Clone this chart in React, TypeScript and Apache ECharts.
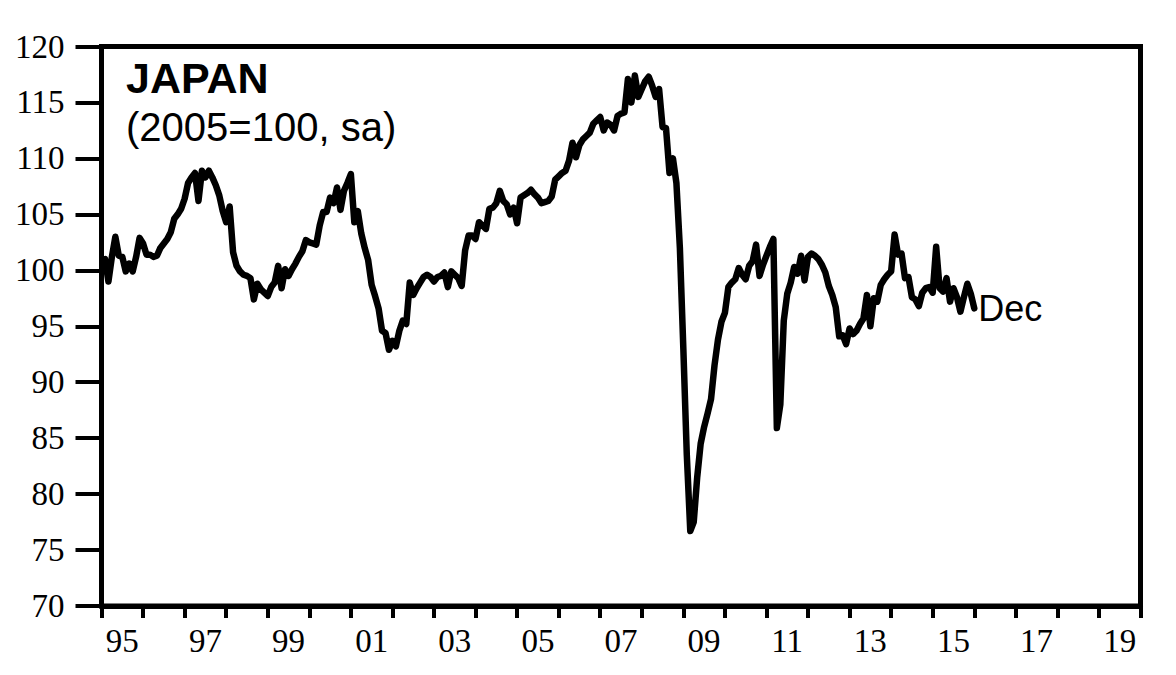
import React, { useEffect, useRef } from "react";
import * as echarts from "echarts";

// Tick labels of the category (year) axis: one slot per year, 1995..2019
const yearLabels = [
  "95", "96", "97", "98", "99", "00", "01", "02", "03", "04",
  "05", "06", "07", "08", "09", "10", "11", "12", "13", "14",
  "15", "16", "17", "18", "19",
];

const startYear = 1995;
const axisMinYear = 1995;
const axisMaxYear = 2020;

// Japan industrial production, 2005=100, seasonally adjusted, monthly Jan 1995 .. Dec 2015
const ipIndex = [
  // 1995
  101.0, 99.0, 101.2, 103.0, 101.3, 101.2, 99.9, 100.6, 99.9, 101.2, 102.9, 102.4,
  // 1996
  101.4, 101.4, 101.2, 101.3, 102.0, 102.4, 102.8, 103.4, 104.6, 105.0, 105.5, 106.4,
  // 1997
  107.8, 108.3, 108.7, 106.2, 108.9, 108.3, 108.9, 108.3, 107.6, 106.7, 105.3, 104.3,
  // 1998
  105.7, 101.6, 100.4, 99.9, 99.6, 99.5, 99.3, 97.4, 98.8, 98.3, 98.0, 97.7,
  // 1999
  98.5, 98.9, 100.4, 98.4, 100.1, 99.5, 100.1, 100.6, 101.2, 101.7, 102.7, 102.5,
  // 2000
  102.4, 102.3, 104.0, 105.2, 105.2, 106.5, 106.0, 107.4, 105.4, 107.1, 107.8, 108.6,
  // 2001
  104.3, 105.3, 103.3, 102.0, 100.9, 98.7, 97.7, 96.6, 94.6, 94.4, 92.9, 93.7,
  // 2002
  93.2, 94.6, 95.5, 95.2, 98.9, 97.8, 98.4, 98.9, 99.4, 99.6, 99.4, 99.0,
  // 2003
  99.4, 99.5, 99.8, 98.5, 99.9, 99.6, 99.3, 98.6, 101.8, 103.1, 103.1, 102.8,
  // 2004
  104.3, 104.0, 103.7, 105.5, 105.6, 106.0, 107.1, 106.2, 105.9, 105.0, 105.6, 104.2,
  // 2005
  106.5, 106.7, 106.9, 107.2, 106.8, 106.5, 106.0, 106.1, 106.2, 106.6, 108.1, 108.4,
  // 2006
  108.7, 108.9, 109.8, 111.4, 110.1, 111.2, 111.7, 112.0, 112.3, 113.1, 113.4, 113.7,
  // 2007
  112.5, 113.2, 113.0, 112.5, 113.8, 114.0, 114.1, 117.1, 115.0, 117.4, 115.5, 116.2,
  // 2008
  116.9, 117.3, 116.5, 115.5, 116.2, 112.8, 112.7, 108.7, 110.0, 107.8, 102.0, 93.0,
  // 2009
  83.5, 76.7, 77.5, 81.5, 84.5, 86.0, 87.2, 88.5, 91.5, 93.8, 95.4, 96.2,
  // 2010
  98.5, 98.9, 99.2, 100.2, 99.6, 99.2, 100.4, 100.8, 102.3, 99.5, 100.5, 101.3,
  // 2011
  102.1, 102.8, 85.9, 88.0, 95.5, 97.9, 98.9, 100.3, 99.7, 101.3, 99.1, 101.2,
  // 2012
  101.5, 101.3, 101.0, 100.5, 99.8, 98.6, 97.8, 96.7, 94.1, 94.2, 93.4, 94.8,
  // 2013
  94.3, 94.6, 95.2, 95.7, 97.8, 95.0, 97.5, 97.2, 98.7, 99.2, 99.6, 99.9,
  // 2014
  103.2, 101.4, 101.5, 99.3, 99.4, 97.6, 97.4, 96.8, 98.0, 98.4, 98.5, 98.0,
  // 2015
  102.1, 98.4, 98.1, 99.3, 97.2, 98.4, 97.6, 96.3, 97.6, 98.8, 97.9, 96.6,
];

const titleText = "JAPAN";
const subtitleText = "(2005=100, sa)";
const lastLabel = "Dec";

export default function App() {
  const ref = useRef<HTMLDivElement | null>(null);

  useEffect(() => {
    if (!ref.current) return;
    const chart = echarts.init(ref.current, undefined, { renderer: "svg" });

    // month-end positions on the year scale
    const seriesData = ipIndex.map((v, i) => [startYear + (i + 1) / 12, v]);

    const serif = '"Liberation Serif", "Times New Roman", serif';
    const sans = '"Liberation Sans", Arial, sans-serif';

    chart.setOption({
      animation: false,
      backgroundColor: "#ffffff",
      grid: {
        left: 101.5,
        right: 35.5,
        top: 46.5,
        bottom: 69,
        show: true,
        borderColor: "#000",
        borderWidth: 5,
        backgroundColor: "transparent",
      },
      xAxis: [
        {
          type: "category",
          data: yearLabels,
          boundaryGap: true,
          position: "bottom",
          axisLine: { show: true, lineStyle: { color: "#000", width: 5 } },
          axisTick: {
            show: true,
            interval: 0,
            inside: false,
            length: 12,
            lineStyle: { color: "#000", width: 4 },
          },
          axisLabel: {
            show: true,
            interval: 1,
            color: "#000",
            fontFamily: serif,
            fontSize: 33,
            margin: 18,
          },
          splitLine: { show: false },
        },
        {
          type: "value",
          min: axisMinYear,
          max: axisMaxYear,
          show: false,
        },
      ],
      yAxis: {
        type: "value",
        min: 70,
        max: 120,
        interval: 5,
        axisLine: { show: true, lineStyle: { color: "#000", width: 5 } },
        axisTick: {
          show: true,
          length: 26,
          lineStyle: { color: "#000", width: 4 },
        },
        axisLabel: {
          color: "#000",
          fontFamily: serif,
          fontSize: 33,
          margin: 37,
        },
        splitLine: { show: false },
      },
      series: [
        {
          type: "line",
          xAxisIndex: 1,
          data: seriesData,
          showSymbol: false,
          symbol: "none",
          lineStyle: { color: "#000", width: 6.5, join: "round", cap: "round" },
          endLabel: {
            show: true,
            formatter: lastLabel,
            color: "#000",
            fontFamily: sans,
            fontSize: 36,
            distance: 4,
          },
        },
      ],
      graphic: [
        {
          type: "text",
          x: 126,
          y: 78,
          style: {
            text: titleText,
            font: `bold 43px ${sans}`,
            fill: "#000",
            align: "left",
            verticalAlign: "middle",
          },
        },
        {
          type: "text",
          x: 126,
          y: 127,
          style: {
            text: subtitleText,
            font: `40px ${sans}`,
            fill: "#000",
            align: "left",
            verticalAlign: "middle",
          },
        },
      ],
    });

    return () => {
      chart.dispose();
    };
  }, []);

  return (
    <div
      ref={ref}
      style={{ position: "absolute", left: 0, top: 0, width: 1176, height: 675 }}
    />
  );
}
